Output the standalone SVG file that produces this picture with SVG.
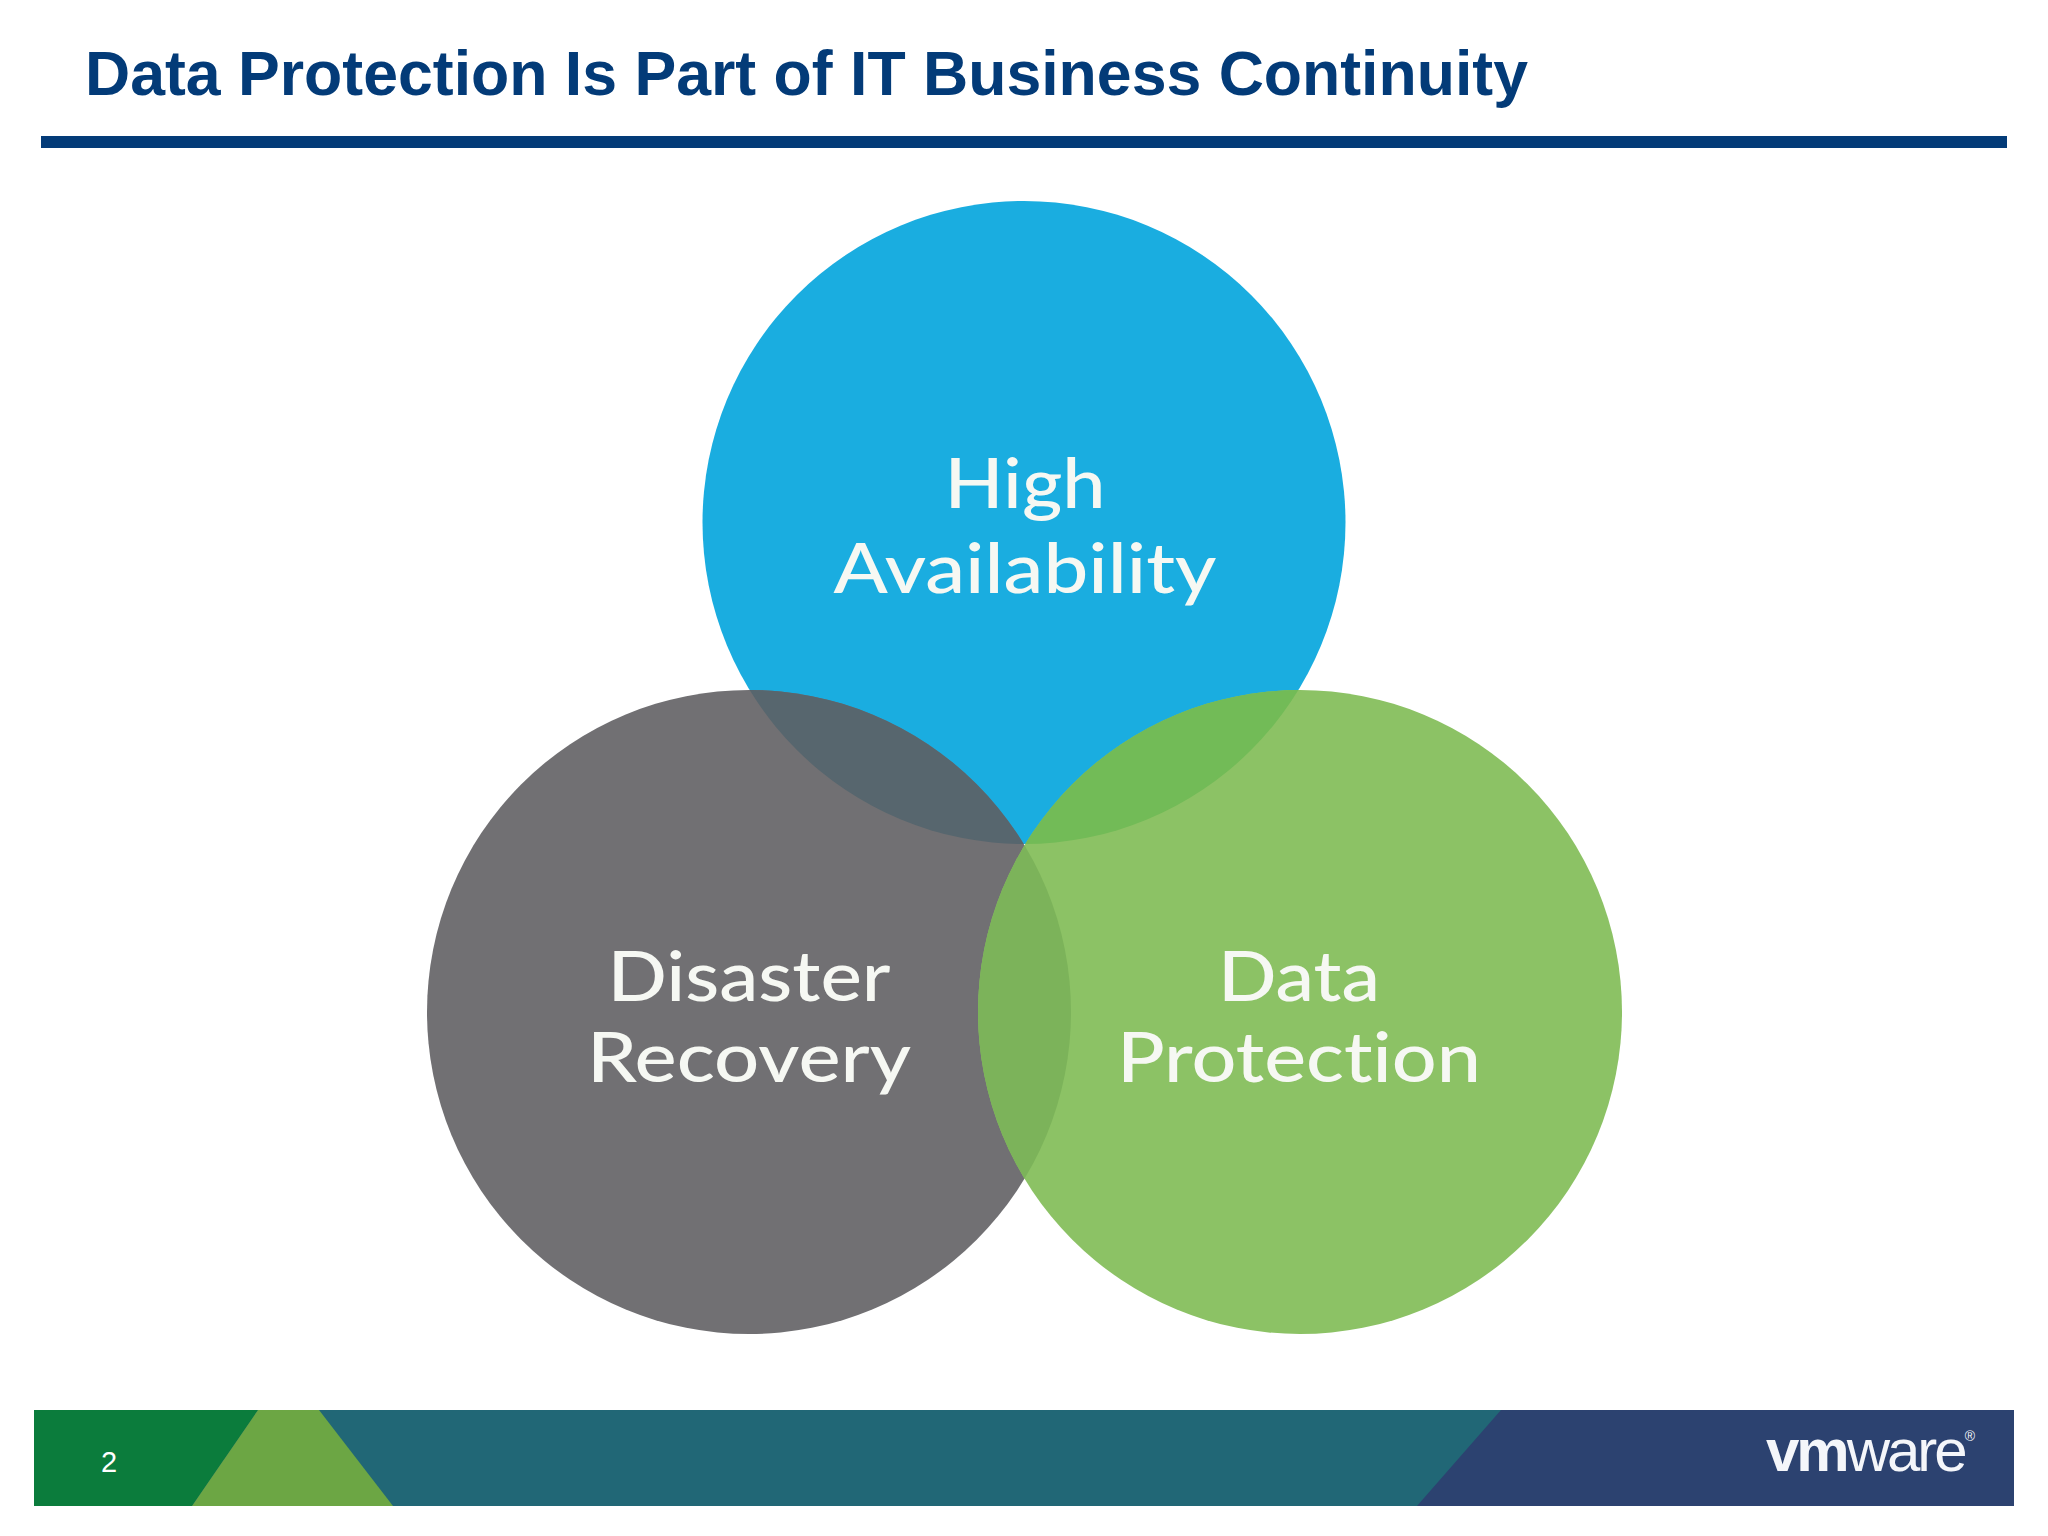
<svg xmlns="http://www.w3.org/2000/svg" width="2048" height="1536" viewBox="0 0 2048 1536">
<style>
.title{font-family:"Liberation Sans",Arial,sans-serif;font-weight:700;font-size:63px;fill:#033b78}
.lbl{font-family:Lato,"Open Sans",sans-serif;font-size:69px;font-weight:500;fill:#f6f8f3;text-anchor:middle;font-variant-ligatures:none}
.num{font-family:"Liberation Sans",Arial,sans-serif;font-size:29px;fill:#fff;text-anchor:middle}
.logo{font-family:"Liberation Sans",Arial,sans-serif;font-size:60px;fill:#f4f6fa}
</style>
<defs>
<clipPath id="cTop"><circle cx="1024" cy="522.5" r="321.5"/></clipPath>
<clipPath id="cLeft"><circle cx="749" cy="1012" r="322"/></clipPath>
</defs>
<rect width="2048" height="1536" fill="#fff"/>
<g id="header">
<text class="title" x="85" y="95" textLength="1443" lengthAdjust="spacingAndGlyphs">Data Protection Is Part of IT Business Continuity</text>
<rect x="41" y="136" width="1966" height="12" fill="#033b78"/>
</g>
<g id="high-availability">
<circle cx="1024" cy="522.5" r="321.5" fill="#1aade0"/>
</g>
<g id="disaster-recovery">
<circle cx="749" cy="1012" r="322" fill="#717073"/>
</g>
<g id="data-protection">
<circle cx="1300" cy="1012" r="322" fill="#8cc265"/>
</g>
<g id="overlaps">
<circle cx="749" cy="1012" r="322" fill="#57666e" clip-path="url(#cTop)"/>
<circle cx="1300" cy="1012" r="322" fill="#72bb57" clip-path="url(#cTop)"/>
<circle cx="1300" cy="1012" r="322" fill="#7cb35a" clip-path="url(#cLeft)"/>
</g>
<g id="labels">
<text class="lbl" x="1025" y="508" textLength="161" lengthAdjust="spacingAndGlyphs">High</text>
<text class="lbl" x="1025" y="593" textLength="383" lengthAdjust="spacingAndGlyphs">Availability</text>
<text class="lbl" x="749" y="1001" textLength="283" lengthAdjust="spacingAndGlyphs">Disaster</text>
<text class="lbl" x="749" y="1082" textLength="324" lengthAdjust="spacingAndGlyphs">Recovery</text>
<text class="lbl" x="1299" y="1001" textLength="162" lengthAdjust="spacingAndGlyphs">Data</text>
<text class="lbl" x="1299" y="1082" textLength="364" lengthAdjust="spacingAndGlyphs">Protection</text>
</g>
<g id="footer">
<rect x="34" y="1410" width="1980" height="96" fill="#216776"/>
<polygon points="34,1410 258,1410 192,1506 34,1506" fill="#0b7c3c"/>
<polygon points="258,1410 319,1410 393,1506 192,1506" fill="#6ca644"/>
<polygon points="1501,1410 2014,1410 2014,1506 1417,1506" fill="#2c4270"/>
<text class="num" x="109" y="1472">2</text>
<text class="logo" x="1766" y="1471" textLength="209"><tspan font-weight="700">vm</tspan>ware<tspan font-size="14" dy="-30">®</tspan></text>
</g>
</svg>
